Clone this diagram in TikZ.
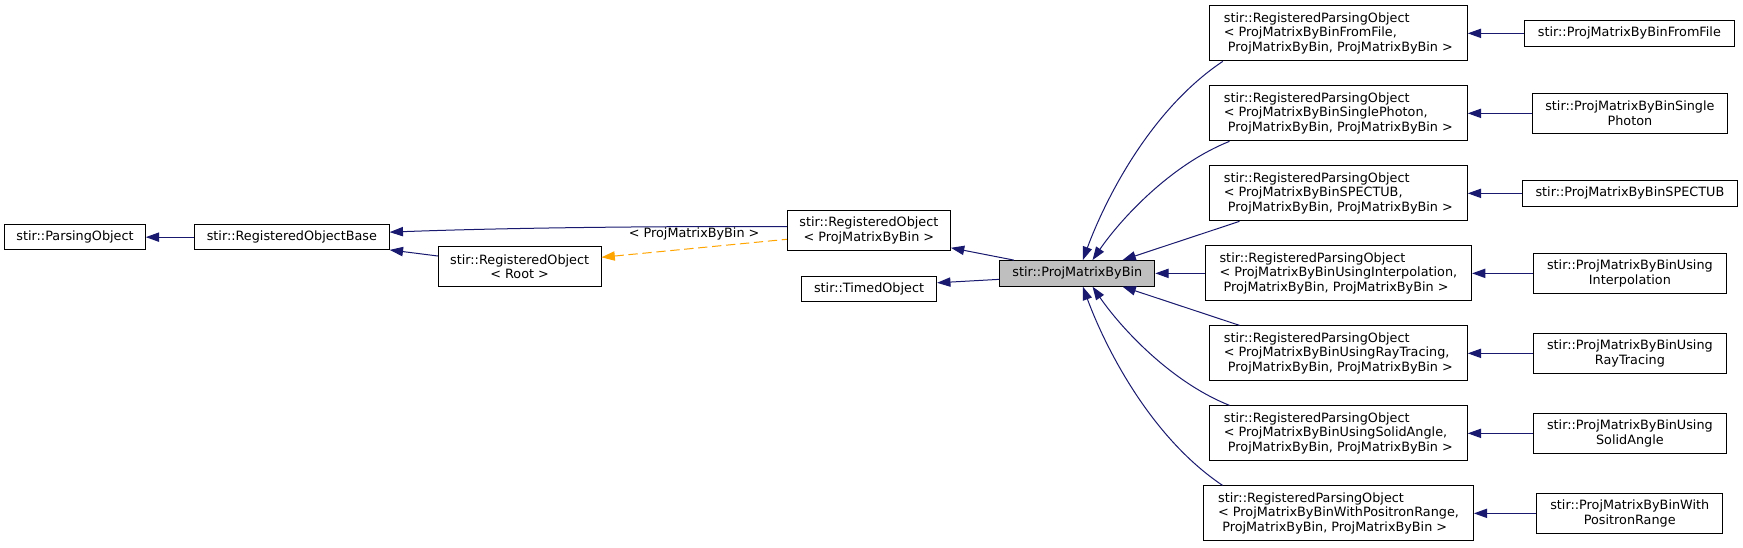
\documentclass[tikz,border=0pt]{standalone}
\usepackage{fontspec}
\setmainfont{DejaVu Sans}
\usetikzlibrary{arrows.meta,calc}
\definecolor{edgeblue}{HTML}{191970}
\definecolor{dashorange}{HTML}{FFA500}
\definecolor{curfill}{HTML}{BFBFBF}
\tikzset{
  box/.style={draw=black, fill=white, line width=0.75pt, inner sep=0pt,
    font=\fontsize{9.6}{11}\selectfont, align=center},
  lbox/.style={box, align=left},
  sz/.style n args={2}{minimum width=#1*0.75pt, minimum height=#2*0.75pt},
  inh/.style={draw=edgeblue, line width=0.75pt, {Triangle[length=10pt,width=7pt]}-},
  tmpl/.style={draw=dashorange, line width=0.75pt, dash pattern=on 7pt off 3.5pt, {Triangle[length=10pt,width=7pt]}-},
  lab/.style={font=\fontsize{9.6}{11}\selectfont, inner sep=0pt}
}
\begin{document}
\begin{tikzpicture}[x=0.75pt,y=-0.75pt]
\useasboundingbox (0,0) rectangle (1743,547);
\fill[white] (0,0) rectangle (1743,547);

% left part
\node[box, sz={140.6}{25.5}] (po) at (75,237.15) {stir::ParsingObject};
\node[box, sz={194.7}{25.5}] (rob) at (291.85,237.15) {stir::RegisteredObjectBase};
\node[box, sz={162.7}{40}] (ror) at (519.65,266.7) {stir::RegisteredObject\\< Root >};
\node[box, sz={163.1}{40}] (ro) at (868.85,230.7) {stir::RegisteredObject\\< ProjMatrixByBin >};
\node[box, sz={135.1}{25.5}] (timed) at (869.05,289.2) {stir::TimedObject};
\node[box, fill=curfill, sz={155}{25.5}] (pmbb) at (1077.3,273.35) {stir::ProjMatrixByBin};

% registered parsing objects
\node[lbox, sz={257.9}{55}] (rpo1) at (1338.35,33.35) {stir::RegisteredParsingObject\\< ProjMatrixByBinFromFile,\\\hspace*{0.32em}ProjMatrixByBin, ProjMatrixByBin >};
\node[lbox, sz={257.9}{55}] (rpo2) at (1338.35,113.35) {stir::RegisteredParsingObject\\< ProjMatrixByBinSinglePhoton,\\\hspace*{0.32em}ProjMatrixByBin, ProjMatrixByBin >};
\node[lbox, sz={257.9}{55}] (rpo3) at (1338.35,193.35) {stir::RegisteredParsingObject\\< ProjMatrixByBinSPECTUB,\\\hspace*{0.32em}ProjMatrixByBin, ProjMatrixByBin >};
\node[lbox, sz={266.5}{55}] (rpo4) at (1338.35,273.35) {stir::RegisteredParsingObject\\< ProjMatrixByBinUsingInterpolation,\\\hspace*{0.32em}ProjMatrixByBin, ProjMatrixByBin >};
\node[lbox, sz={257.9}{55}] (rpo5) at (1338.35,353.35) {stir::RegisteredParsingObject\\< ProjMatrixByBinUsingRayTracing,\\\hspace*{0.32em}ProjMatrixByBin, ProjMatrixByBin >};
\node[lbox, sz={257.9}{55}] (rpo6) at (1338.35,433.35) {stir::RegisteredParsingObject\\< ProjMatrixByBinUsingSolidAngle,\\\hspace*{0.32em}ProjMatrixByBin, ProjMatrixByBin >};
\node[lbox, sz={269.7}{55}] (rpo7) at (1338.55,513.35) {stir::RegisteredParsingObject\\< ProjMatrixByBinWithPositronRange,\\\hspace*{0.32em}ProjMatrixByBin, ProjMatrixByBin >};

% leaves
\node[box, sz={209.3}{25.5}] (ff) at (1629.35,33.35) {stir::ProjMatrixByBinFromFile};
\node[box, sz={195.4}{40}] (sp) at (1629.9,113.35) {stir::ProjMatrixByBinSingle\\Photon};
\node[box, sz={215.4}{25.5}] (spect) at (1629.9,193.35) {stir::ProjMatrixByBinSPECTUB};
\node[box, sz={192.4}{40}] (interp) at (1629.9,273.35) {stir::ProjMatrixByBinUsing\\Interpolation};
\node[box, sz={192.4}{40}] (ray) at (1629.9,353.35) {stir::ProjMatrixByBinUsing\\RayTracing};
\node[box, sz={192.4}{40}] (solid) at (1629.9,433.35) {stir::ProjMatrixByBinUsing\\SolidAngle};
\node[box, sz={186.3}{40}] (pos) at (1629.75,513.35) {stir::ProjMatrixByBinWith\\PositronRange};

% edges, arrow at the base class
\draw[inh] (po.east) -- (rob.west);
\draw[inh] ($(rob.east)+(0,-5)$) .. controls (500,228) and (650,226) .. ($(ro.west)+(0,-4)$);
\draw[inh] ($(rob.south east)+(0,-0.5)$) -- ($(ror.west)+(0,-10.7)$);
\draw[tmpl] ($(ror.east)+(0,-9.4)$) -- ($(ro.west)+(0,8.6)$)
  node[lab, midway, yshift=10.5pt] (tlab) {< ProjMatrixByBin >};
\draw[inh] ($(ro.south east)+(0,-3.4)$) -- ($(pmbb.north west)+(14.6,0)$);
\draw[inh] ($(timed.east)+(0,-6.4)$) -- ($(pmbb.west)+(0,6)$);

\draw[inh] ($(pmbb.north west)+(83.5,0)$) .. controls (1105,200) and (1150,110) .. ($(rpo1.south west)+(13.9,0)$);
\draw[inh] ($(pmbb.north west)+(93.2,0)$) .. controls (1120,220) and (1170,165) .. ($(rpo2.south west)+(20.6,0)$);
\draw[inh] ($(pmbb.north west)+(123.2,0)$) -- ($(rpo3.south west)+(30.6,0)$);
\draw[inh] (pmbb.east) -- (rpo4.west);
\draw[inh] ($(pmbb.south west)+(123.2,0)$) -- ($(rpo5.north west)+(30.6,0)$);
\draw[inh] ($(pmbb.south west)+(93.2,0)$) .. controls (1120,326.7) and (1170,381.7) .. ($(rpo6.north west)+(20.6,0)$);
\draw[inh] ($(pmbb.south west)+(83.5,0)$) .. controls (1105,346.7) and (1150,436.7) .. ($(rpo7.north west)+(19.3,0)$);

\draw[inh] (rpo1.east) -- (rpo1.east -| ff.west);
\draw[inh] (rpo2.east) -- (rpo2.east -| sp.west);
\draw[inh] (rpo3.east) -- (rpo3.east -| spect.west);
\draw[inh] (rpo4.east) -- (rpo4.east -| interp.west);
\draw[inh] (rpo5.east) -- (rpo5.east -| ray.west);
\draw[inh] (rpo6.east) -- (rpo6.east -| solid.west);
\draw[inh] (rpo7.east) -- (rpo7.east -| pos.west);
\end{tikzpicture}
\end{document}
